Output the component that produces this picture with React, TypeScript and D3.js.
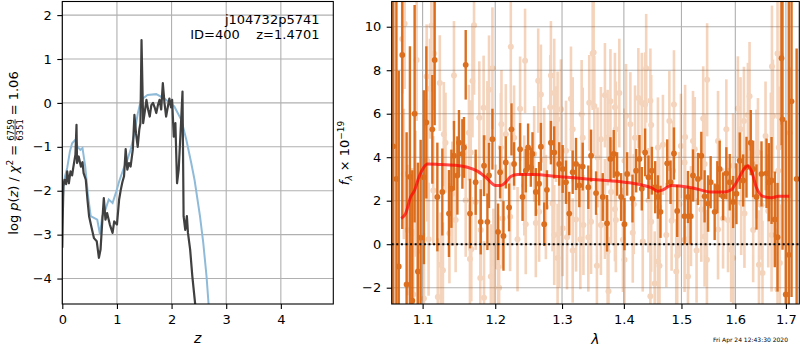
import React, { useEffect, useRef } from "react";
import * as d3 from "d3";

// log p(z) curve (black) and the prior / template curve (blue)
const pzBlack: [number, number][] = [
  [0, -3.3], [0.01, -2.5], [0.02, -1.9], [0.04, -1.75], [0.07, -1.85], [0.09, -1.56], [0.12, -1.83],
  [0.15, -1.56], [0.18, -1.65], [0.2, -1.48], [0.24, -1.18], [0.26, -0.5], [0.27, -1.37], [0.3, -1.22],
  [0.34, -1.45], [0.37, -1.35], [0.39, -1.6], [0.43, -1.75], [0.46, -2.2], [0.49, -2.58], [0.53, -2.81],
  [0.58, -3.08], [0.63, -3.15], [0.67, -3.53], [0.7, -3.34], [0.73, -2.73], [0.76, -2.17], [0.79, -2.66],
  [0.82, -2.51], [0.87, -2.77], [0.92, -2.96], [0.95, -2.7], [1.0, -2.77], [1.04, -2.2], [1.07, -1.98],
  [1.1, -1.8], [1.13, -1.67], [1.16, -1.05], [1.19, -1.52], [1.22, -1.37], [1.25, -1.45], [1.29, -1.07],
  [1.32, -0.27], [1.35, -0.7], [1.38, -1.0], [1.41, -0.6], [1.43, -0.46], [1.45, 1.43], [1.48, -0.46],
  [1.51, -0.2], [1.54, 0.07], [1.57, -0.15], [1.6, -0.31], [1.63, -0.05], [1.66, 0], [1.69, -0.1],
  [1.72, -0.23], [1.75, -0.05], [1.78, 0.07], [1.81, -0.15], [1.84, 0.45], [1.87, 0.0], [1.9, -0.31],
  [1.93, -0.1], [1.96, 0.1], [1.99, -0.1], [2.01, 0.07], [2.04, -0.77], [2.07, -0.46], [2.1, -1.83],
  [2.13, -1.52], [2.17, -0.54], [2.2, 0.26], [2.22, -2.58], [2.25, -2.89], [2.28, -2.58], [2.3, -2.96],
  [2.34, -3.34], [2.38, -3.95], [2.45, -4.8],
];

const pzBlue: [number, number][] = [
  [0, -2.6], [0.02, -1.9], [0.05, -1.67], [0.09, -1.48], [0.14, -1.1], [0.18, -0.92], [0.24, -0.84],
  [0.28, -1.0], [0.33, -1.07], [0.37, -1.03], [0.42, -1.45], [0.47, -2.1], [0.52, -2.58], [0.58, -2.62],
  [0.64, -2.66], [0.69, -3.0], [0.73, -2.58], [0.79, -2.43], [0.85, -2.2], [0.92, -2.28], [0.98, -2.05],
  [1.04, -1.79], [1.12, -1.5], [1.19, -1.3], [1.25, -1.07], [1.32, -0.69], [1.38, -0.25], [1.44, 0.07],
  [1.56, 0.18], [1.72, 0.2], [1.87, 0.1], [2.05, -0.08], [2.18, -0.39], [2.27, -0.84], [2.36, -1.37],
  [2.42, -1.75], [2.52, -2.58], [2.58, -3.19], [2.64, -3.95], [2.69, -4.8],
];

// spectrum: [lambda, flux, error]
const specDark: [number, number, number][] = [
  [1.062, 4.5, 12], [1.066, 3.0, 10], [1.069, -1.02, 9], [1.0735, 8.7, 8], [1.0791, -1.85, 7], [1.0834, 3.1, 6],
  [1.0865, -2.6, 6], [1.0895, 6.0, 5], [1.0938, -1.25, 5], [1.0974, 0.3, 4.5], [1.1017, 3.08, 4], [1.1049, 5.6, 3.5],
  [1.1129, 5.28, 2.5], [1.116, 8.47, 3], [1.1196, 2.17, 2.5], [1.1263, 2.4, 2], [1.1353, 1.41, 2], [1.1386, 2.55, 1.8],
  [1.1421, 4.07, 1.6], [1.1468, 3.16, 1.8], [1.149, 4.67, 1.5], [1.1537, 4.15, 1.6], [1.1559, 4.45, 1.4], [1.1583, 8.25, 1.6],
  [1.1642, 1.41, 1.6], [1.1722, 2.85, 1.5], [1.1793, 1.03, 1.5], [1.184, 3.61, 1.4], [1.1888, 1.03, 1.3], [1.1911, 3.16, 1.5],
  [1.196, 4.83, 1.4], [1.2041, 0.57, 1.3], [1.207, 3.31, 1.2], [1.2119, 0.38, 1.6], [1.2153, 3.76, 1.2], [1.2201, 1.69, 1.1],
  [1.2236, 5.28, 1.2], [1.2274, 3.69, 1.0], [1.2363, 4.37, 1.2], [1.2399, 2.17, 1.1], [1.2448, 3.38, 1.0], [1.2482, 4.45, 1.1],
  [1.2523, 3.54, 0.9], [1.2548, 4.15, 1.0], [1.2598, 2.4, 1.1], [1.2648, 2.78, 1.0], [1.2675, 4.48, 1.1], [1.2725, 0.92, 1.0],
  [1.2767, 2.5, 0.9], [1.2828, 4.67, 1.0], [1.2879, 4.22, 1.2], [1.2956, 3.69, 1.0], [1.301, 3.46, 1.1], [1.3062, 2.85, 1.0],
  [1.3113, 1.41, 1.0], [1.3167, 3.31, 1.0], [1.322, 3.69, 1.2], [1.3272, 2.7, 1.0], [1.3326, 3.57, 1.1], [1.3416, 2.62, 1.0],
  [1.346, 4.07, 1.2], [1.3541, 2.35, 1.0], [1.365, 2.17, 1.1], [1.3721, 0.96, 1.3], [1.3776, 3.92, 1.0], [1.3831, 4.15, 1.1],
  [1.3887, 3.23, 1.0], [1.3954, 2.17, 1.1], [1.401, 0.92, 1.2], [1.4055, 3.23, 1.0], [1.4145, 2.1, 1.1], [1.4207, 3.38, 1.0],
  [1.4264, 3.92, 1.1], [1.4304, 2.55, 1.0], [1.4361, 4.22, 1.1], [1.4419, 3.08, 1.0], [1.4478, 3.38, 1.1], [1.4535, 2.62, 1.2],
  [1.4583, 2.17, 1.0], [1.4628, 1.49, 1.2], [1.4746, 3.72, 1.1], [1.4805, 2.85, 1.0], [1.4866, 4.17, 1.2], [1.4924, 1.53, 1.2],
  [1.5056, 1.29, 1.3], [1.5118, 2.17, 1.2], [1.5165, 1.29, 1.3], [1.5209, 3.16, 1.2], [1.53, 3.0, 1.2], [1.5361, 4.07, 1.1],
  [1.5422, 2.2, 1.2], [1.5486, 1.87, 1.3], [1.5534, 2.85, 1.2], [1.5609, 1.49, 1.3], [1.5659, 2.62, 1.2], [1.5703, 3.46, 1.3],
  [1.5767, 2.2, 1.1], [1.5829, 3.26, 1.2], [1.5893, 2.85, 1.3], [1.5958, 1.94, 1.2], [1.6022, 2.32, 1.4], [1.6085, 3.84, 1.3],
  [1.6151, 2.93, 1.2], [1.6216, 3.54, 1.4], [1.6299, 4.67, 1.5], [1.6346, 3.46, 1.3], [1.6411, 2.17, 1.5], [1.651, 3.23, 1.5],
  [1.661, 3.26, 1.6], [1.6655, 2.85, 1.8], [1.671, 2.93, 2], [1.6775, 1.14, 2.2], [1.683, 0.32, 2.5], [1.6911, 8.55, 4],
  [1.6931, 5.74, 6], [1.6997, -2.31, 8], [1.7059, -0.49, 12], [1.7115, 6.57, 9], [1.722, 3.0, 6],
];

const specLight: [number, number, number][] = [
  [1.0765, 10.14, 3], [1.0735, 9.43, 2.5], [1.0921, 8.47, 2.8], [1.115, 8.77, 2.6], [1.1116, 10.04, 3], [1.1053, 7.71, 2.4],
  [1.1229, 7.41, 2.2], [1.1421, 7.76, 2.5], [1.1699, 10.07, 3.2], [1.1677, 7.51, 2.6], [1.196, 8.09, 2.8], [1.1097, 7.15, 2.3],
  [1.1911, 7.1, 2.5], [1.1834, 6.27, 2.4], [1.1773, 5.81, 2.6], [1.1283, 5.06, 2.4], [1.1628, 5.13, 2.2], [1.1888, 4.9, 2.6],
  [1.1653, 4.22, 2.4], [1.1062, 3.84, 2.8], [1.1306, 4.67, 2.3], [1.1142, 2.47, 2.5], [1.1398, 2.32, 2.4], [1.1583, 2.02, 2.6],
  [1.1722, 1.94, 2.2], [1.08, 0.65, 3], [1.0865, 0.5, 3], [1.093, -0.34, 2.8], [1.1079, 0.23, 2.6], [1.1241, -0.94, 2.4],
  [1.1271, -1.2, 2.2], [1.1444, 1.11, 2.4], [1.1359, 0.5, 2.3], [1.1642, -0.68, 2.5], [1.1661, -0.23, 2.4], [1.1787, -1.55, 2.6],
  [1.1793, 0.65, 2.3], [1.1937, -1.48, 2.4], [1.1979, -0.87, 2.5], [1.184, -2.46, 2.6], [1.1202, -2.43, 2.7], [1.0878, -2.31, 3],
  [1.1017, -2.5, 3], [1.0908, 2.32, 2.9], [1.0755, 3.23, 3],
  [1.2226, 9.08, 2.6], [1.2437, 8.43, 2.4], [1.2828, 7.76, 2.5], [1.2634, 7.52, 2.4], [1.3486, 8.77, 2.6], [1.2675, 6.88, 2.3],
  [1.2879, 6.95, 2.5], [1.314, 6.69, 2.4], [1.3431, 6.5, 2.2], [1.2818, 6.3, 2.4], [1.2983, 6.2, 2.3], [1.3309, 5.97, 2.5],
  [1.2931, 5.74, 2.2], [1.2363, 6.23, 2.4], [1.209, 5.51, 2.5], [1.2153, 5.06, 2.3], [1.2905, 5.06, 2.2], [1.3167, 5.28, 2.4],
  [1.3326, 4.9, 2.3], [1.2274, 4.9, 2.4], [1.2573, 4.15, 2.2], [1.3062, 4.3, 2.3], [1.2725, 3.87, 2.4], [1.2081, 4.45, 2.5],
  [1.2425, 2.7, 2.3], [1.2751, 1.71, 2.4], [1.2648, 1.49, 2.3], [1.2853, 1.87, 2.2], [1.322, 1.14, 2.4], [1.3338, 0.88, 2.3],
  [1.346, 1.03, 2.4], [1.2447, 0.92, 2.3], [1.2598, 0.98, 2.5], [1.2325, 0.23, 2.4], [1.2879, 0.42, 2.3], [1.2956, 0.5, 2.5],
  [1.301, 0.73, 2.2], [1.3078, 0.32, 2.4], [1.3288, 0.23, 2.3], [1.3416, 0.32, 2.5], [1.3167, -0.29, 2.4], [1.2931, -0.64, 2.5],
  [1.1975, -0.87, 2.5], [1.2041, -1.05, 2.4], [1.2056, -2.0, 2.6], [1.2008, 1.26, 2.4], [1.2106, 1.18, 2.3], [1.2216, 1.26, 2.5],
  [1.3502, 8.82, 2.6], [1.4379, 8.09, 2.5], [1.3686, 6.85, 2.4], [1.3924, 6.95, 2.5], [1.4245, 6.72, 2.3], [1.3776, 6.57, 2.4],
  [1.3851, 6.3, 2.5], [1.4452, 6.6, 2.4], [1.4304, 6.5, 2.3], [1.4361, 6.42, 2.4], [1.4866, 6.42, 2.5], [1.3513, 6.35, 2.3],
  [1.4036, 5.89, 2.4], [1.4784, 5.66, 2.3], [1.4109, 5.51, 2.4], [1.4466, 5.48, 2.3], [1.3866, 5.28, 2.2], [1.4188, 4.9, 2.4],
  [1.4671, 4.57, 2.3], [1.5066, 4.93, 2.4], [1.5209, 4.75, 2.3], [1.362, 4.83, 2.4], [1.373, 4.9, 2.2], [1.4583, 4.45, 2.3],
  [1.499, 4.52, 2.4], [1.3565, 3.99, 2.3], [1.401, 3.84, 2.4], [1.5056, 3.76, 2.2], [1.4849, 3.38, 2.3], [1.3787, 2.4, 2.4],
  [1.4167, 1.84, 2.3], [1.4419, 2.02, 2.4], [1.4605, 1.71, 2.3], [1.4963, 1.84, 2.4], [1.3686, 1.62, 2.3], [1.3851, 1.61, 2.4],
  [1.362, 0.88, 2.3], [1.3866, 1.11, 2.4], [1.415, 0.53, 2.3], [1.3985, 0.2, 2.4], [1.4466, 1.03, 2.3], [1.473, 0.42, 2.4],
  [1.4824, 1.08, 2.3], [1.5056, 0.2, 2.4], [1.5122, 0.23, 2.3], [1.373, -0.34, 2.4], [1.401, -0.72, 2.5], [1.432, 0.12, 2.3],
  [1.3555, -0.99, 2.4], [1.4924, -0.53, 2.3], [1.4583, -0.79, 2.4], [1.461, -0.99, 2.5], [1.4527, -1.81, 2.4], [1.5118, -1.48, 2.3],
  [1.4907, -1.25, 2.4], [1.3744, -2.16, 2.5], [1.4452, -2.39, 2.4],
  [1.5469, 7.56, 2.6], [1.6275, 6.8, 2.5], [1.6718, 8.17, 2.8], [1.683, 8.77, 3], [1.6897, 8.7, 3.2], [1.5396, 5.78, 2.4],
  [1.5829, 5.28, 2.3], [1.6049, 6.24, 2.4], [1.6166, 5.66, 2.5], [1.6243, 5.94, 2.4], [1.659, 4.98, 2.5], [1.6738, 5.89, 2.6],
  [1.61, 5.28, 2.4], [1.5672, 4.75, 2.3], [1.5241, 4.37, 2.4], [1.644, 4.22, 2.5], [1.6696, 4.37, 2.6], [1.6856, 4.45, 2.8],
  [1.7078, 5.13, 3], [1.5422, 3.69, 2.3], [1.5958, 3.61, 2.4], [1.6411, 3.69, 2.5], [1.6844, 3.38, 2.7], [1.5172, 1.29, 2.3],
  [1.5361, 1.59, 2.4], [1.5767, 1.18, 2.3], [1.5861, 1.11, 2.4], [1.5672, 0.68, 2.3], [1.6113, 1.9, 2.4], [1.6176, 1.41, 2.5],
  [1.6346, 0.65, 2.4], [1.651, 1.79, 2.5], [1.6644, 1.53, 2.6], [1.5274, -0.29, 2.4], [1.5465, -0.72, 2.3], [1.5921, -0.26, 2.4],
  [1.5958, -0.64, 2.3], [1.646, -0.94, 2.5], [1.653, -1.32, 2.4], [1.671, 0.42, 2.6], [1.5422, 0.35, 2.3], [1.683, -2.08, 2.8],
  [1.6877, -0.87, 2.7],
];

// smooth model (red)
const modelLine: [number, number][] = [
  [1.0721, 1.18], [1.0778, 1.41], [1.0843, 2.17], [1.0895, 2.48], [1.0951, 3.08], [1.1017, 3.54], [1.1062, 3.69],
  [1.1241, 3.66], [1.1468, 3.62], [1.1606, 3.54], [1.1746, 3.36], [1.1864, 3.08], [1.2008, 2.7], [1.2081, 2.7],
  [1.2153, 2.85], [1.2226, 3.11], [1.2325, 3.2], [1.2574, 3.2], [1.2931, 3.11], [1.3189, 3.05], [1.3541, 2.96],
  [1.401, 2.85], [1.4293, 2.73], [1.4466, 2.6], [1.4583, 2.44], [1.4671, 2.5], [1.4819, 2.7], [1.5183, 2.6],
  [1.5546, 2.4], [1.5794, 2.4], [1.5921, 2.5], [1.6049, 2.95], [1.6176, 3.48], [1.6243, 3.61], [1.6309, 3.39],
  [1.6408, 2.62], [1.6541, 2.2], [1.671, 2.14], [1.6847, 2.2], [1.7068, 2.2],
];

const zTicks = [0, 1, 2, 3, 4];
const pzTicks = [-4, -3, -2, -1, 0, 1, 2];
const lamTicks = [1.1, 1.2, 1.3, 1.4, 1.5, 1.6, 1.7];
const fluxTicks = [-2, 0, 2, 4, 6, 8, 10];

const FONT = "DejaVu Sans, sans-serif";
const ORANGE = "#d8640f";

const App = () => {
  const svgRef = useRef<SVGSVGElement>(null);

  useEffect(() => {
    const svg = d3.select(svgRef.current);
    svg.selectAll("*").remove();
    svg.attr("font-family", FONT);

    const top = 1.5;
    const bottom = 304;

    // ---------- left panel: p(z)
    const lx0 = 62.3, lx1 = 333.3;
    const xz = d3.scaleLinear().domain([0, 4.96]).range([lx0, lx1]);
    const yp = d3.scaleLinear().domain([-4.58, 2.31]).range([bottom, top]);

    const defs = svg.append("defs");
    defs.append("clipPath").attr("id", "clipL")
      .append("rect").attr("x", lx0).attr("y", top).attr("width", lx1 - lx0).attr("height", bottom - top);

    const gl = svg.append("g");
    gl.append("g").selectAll("line").data(zTicks).join("line")
      .attr("x1", (d) => xz(d)).attr("x2", (d) => xz(d)).attr("y1", top).attr("y2", bottom)
      .attr("stroke", "#b0b0b0").attr("stroke-width", 1.1);
    gl.append("g").selectAll("line").data(pzTicks).join("line")
      .attr("y1", (d) => yp(d)).attr("y2", (d) => yp(d)).attr("x1", lx0).attr("x2", lx1)
      .attr("stroke", "#b0b0b0").attr("stroke-width", 1.1);

    const lineL = d3.line<[number, number]>().x((d) => xz(d[0])).y((d) => yp(d[1]));
    const cl = gl.append("g").attr("clip-path", "url(#clipL)");
    cl.append("path").datum(pzBlue).attr("d", lineL).attr("fill", "none")
      .attr("stroke", "#8fbbd9").attr("stroke-width", 2);
    cl.append("path").datum(pzBlack).attr("d", lineL).attr("fill", "none")
      .attr("stroke", "#404040").attr("stroke-width", 2.2).attr("stroke-linejoin", "round");

    gl.append("g").attr("transform", `translate(0,${bottom})`)
      .call(d3.axisBottom(xz).tickValues(zTicks).tickSize(5).tickPadding(5.5).tickFormat(d3.format("d")))
      .call((g) => g.select(".domain").remove());
    gl.append("g").attr("transform", `translate(${lx0},0)`)
      .call(d3.axisLeft(yp).tickValues(pzTicks).tickSize(5).tickPadding(5.5).tickFormat(d3.format("d")))
      .call((g) => g.select(".domain").remove());

    gl.append("rect").attr("x", lx0).attr("y", top).attr("width", lx1 - lx0).attr("height", bottom - top)
      .attr("fill", "none").attr("stroke", "black").attr("stroke-width", 1.1);

    gl.append("text").attr("x", 319.5).attr("y", 24).attr("text-anchor", "end").attr("font-size", 13)
      .text("j104732p5741");
    gl.append("text").attr("x", 319.5).attr("y", 38.5).attr("text-anchor", "end").attr("font-size", 13)
      .style("white-space", "pre").text("ID=400    z=1.4701");

    gl.append("text").attr("x", (lx0 + lx1) / 2).attr("y", 343).attr("text-anchor", "middle")
      .attr("font-size", 14).attr("font-style", "italic").text("z");

    // ---------- right panel: spectrum
    const rx0 = 391.7, rx1 = 799.3;
    const xl = d3.scaleLog().domain([1.06, 1.7275]).range([rx0, rx1]);
    const yf = d3.scaleLinear().domain([-2.75, 11.16]).range([bottom, top]);

    defs.append("clipPath").attr("id", "clipR")
      .append("rect").attr("x", rx0).attr("y", top).attr("width", rx1 - rx0).attr("height", bottom - top);

    const gr = svg.append("g");
    gr.append("g").selectAll("line").data(lamTicks).join("line")
      .attr("x1", (d) => xl(d)).attr("x2", (d) => xl(d)).attr("y1", top).attr("y2", bottom)
      .attr("stroke", "#b0b0b0").attr("stroke-width", 1.1);
    gr.append("g").selectAll("line").data(fluxTicks).join("line")
      .attr("y1", (d) => yf(d)).attr("y2", (d) => yf(d)).attr("x1", rx0).attr("x2", rx1)
      .attr("stroke", "#b0b0b0").attr("stroke-width", 1.1);

    const cr = gr.append("g").attr("clip-path", "url(#clipR)");

    // faint points
    const lightG = cr.append("g").attr("opacity", 0.28);
    lightG.selectAll("line").data(specLight).join("line")
      .attr("x1", (d) => xl(d[0])).attr("x2", (d) => xl(d[0]))
      .attr("y1", (d) => yf(d[1] - d[2])).attr("y2", (d) => yf(d[1] + d[2]))
      .attr("stroke", ORANGE).attr("stroke-width", 2.6);
    lightG.selectAll("circle").data(specLight).join("circle")
      .attr("cx", (d) => xl(d[0])).attr("cy", (d) => yf(d[1])).attr("r", 3)
      .attr("fill", ORANGE);

    // strong points
    const darkG = cr.append("g").attr("opacity", 0.92);
    darkG.selectAll("line").data(specDark).join("line")
      .attr("x1", (d) => xl(d[0])).attr("x2", (d) => xl(d[0]))
      .attr("y1", (d) => yf(d[1] - d[2])).attr("y2", (d) => yf(d[1] + d[2]))
      .attr("stroke", ORANGE).attr("stroke-width", 2.4);
    darkG.selectAll("circle").data(specDark).join("circle")
      .attr("cx", (d) => xl(d[0])).attr("cy", (d) => yf(d[1])).attr("r", 2.9)
      .attr("fill", ORANGE);

    const lineR = d3.line<[number, number]>().x((d) => xl(d[0])).y((d) => yf(d[1])).curve(d3.curveMonotoneX);
    cr.append("path").datum(modelLine).attr("d", lineR).attr("fill", "none")
      .attr("stroke", "red").attr("stroke-opacity", 0.7).attr("stroke-width", 3);

    cr.append("line").attr("x1", rx0).attr("x2", rx1).attr("y1", yf(0)).attr("y2", yf(0))
      .attr("stroke", "black").attr("stroke-width", 2).attr("stroke-dasharray", "2,2.6");

    gr.append("g").attr("transform", `translate(0,${bottom})`)
      .call(d3.axisBottom(xl).tickValues(lamTicks).tickSize(5).tickPadding(5.5).tickFormat(d3.format(".1f")))
      .call((g) => g.select(".domain").remove());
    gr.append("g").attr("transform", `translate(${rx0},0)`)
      .call(d3.axisLeft(yf).tickValues(fluxTicks).tickSize(5).tickPadding(5.5).tickFormat(d3.format("d")))
      .call((g) => g.select(".domain").remove());

    gr.append("rect").attr("x", rx0).attr("y", top).attr("width", rx1 - rx0).attr("height", bottom - top)
      .attr("fill", "none").attr("stroke", "black").attr("stroke-width", 1.1);

    gr.append("text").attr("x", (rx0 + rx1) / 2).attr("y", 344).attr("text-anchor", "middle")
      .attr("font-size", 14).attr("font-style", "italic").text("λ");

    svg.selectAll(".tick text").attr("font-size", 13).attr("fill", "black").attr("font-family", FONT);
    svg.selectAll(".tick line").attr("stroke", "black").attr("stroke-width", 1.1);

    // ---------- rotated math labels, laid out piece by piece
    const buildLabel = (cx: number, cy: number, pieces: any[]) => {
      const g = svg.append("g");
      let u = 0;
      for (const p of pieces) {
        if (p.gap) { u += p.gap; continue; }
        if (p.frac) {
          const num = g.append("text").attr("x", u).attr("y", -4.6).attr("font-size", 8.5).text(p.frac[0]);
          const den = g.append("text").attr("x", u).attr("y", 4.4).attr("font-size", 8.5).text(p.frac[1]);
          const w = Math.max((num.node() as SVGTextElement).getComputedTextLength(),
            (den.node() as SVGTextElement).getComputedTextLength());
          g.append("line").attr("x1", u).attr("x2", u + w).attr("y1", -3.2).attr("y2", -3.2)
            .attr("stroke", "black").attr("stroke-width", 0.7);
          u += w;
          continue;
        }
        const t = g.append("text").attr("x", u).attr("y", p.dy || 0).attr("font-size", p.size || 13)
          .attr("font-style", p.italic ? "italic" : null).text(p.t);
        u += (t.node() as SVGTextElement).getComputedTextLength();
      }
      g.attr("transform", `translate(${cx},${cy + u / 2}) rotate(-90)`);
    };

    buildLabel(18.3, 153, [
      { t: "log" }, { gap: 4 }, { t: "p", italic: true }, { t: "(" }, { t: "z", italic: true }, { t: ")" },
      { gap: 4 }, { t: "/" }, { gap: 4 }, { t: "χ", italic: true }, { t: "2", size: 9, dy: -5.5 },
      { gap: 4 }, { t: "=" }, { gap: 4 }, { frac: ["6759", "6351"] }, { gap: 4 }, { t: "=" }, { gap: 4 },
      { t: "1.06" },
    ]);

    buildLabel(349, 153, [
      { t: "f", italic: true }, { t: "λ", italic: true, size: 9, dy: 3 }, { gap: 4 }, { t: "×" }, { gap: 4 },
      { t: "10" }, { t: "−19", size: 9, dy: -5.5 },
    ]);

    svg.append("text").attr("x", 788).attr("y", 342).attr("text-anchor", "end").attr("font-size", 6)
      .text("Fri Apr 24 12:43:30 2020");
  }, []);

  return (
    <svg ref={svgRef} width={800} height={350}
      style={{ position: "absolute", left: 0, top: 0, background: "white" }} />
  );
};

export default App;
